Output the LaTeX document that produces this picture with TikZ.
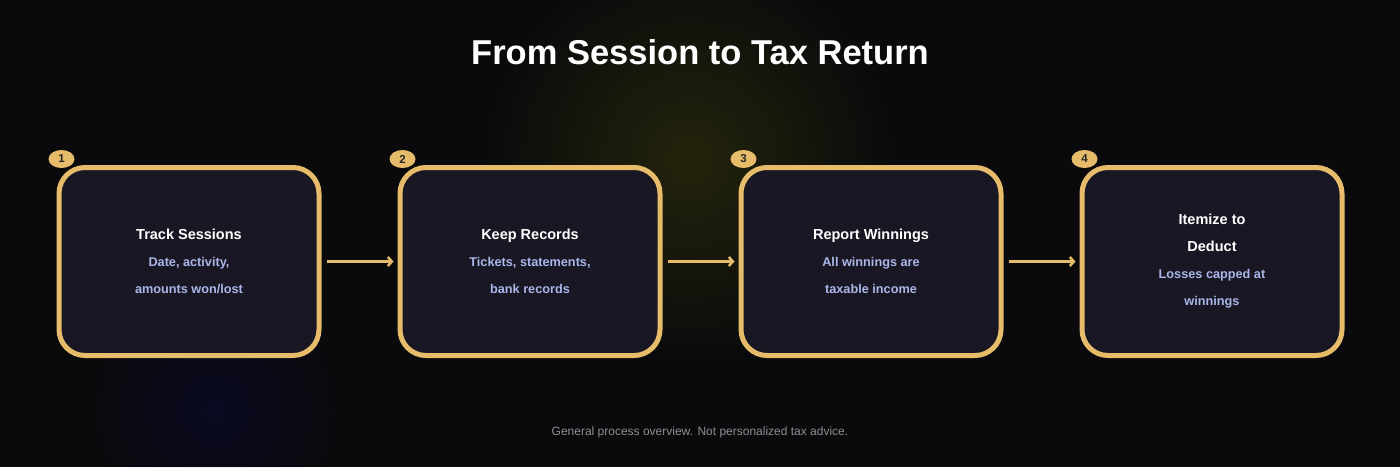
\documentclass[tikz,border=0pt]{standalone}
\usepackage{fontspec}
\setmainfont{Liberation Sans}
\usetikzlibrary{positioning,shapes.geometric,arrows.meta}
\definecolor{bgdark}{RGB}{10,10,12}
\definecolor{boxfill}{RGB}{26,23,36}
\definecolor{gold}{RGB}{230,188,106}
\definecolor{glowgold}{RGB}{215,160,90}
\definecolor{subblue}{RGB}{169,182,232}
\definecolor{footgray}{RGB}{142,142,147}
\definecolor{glowblue}{RGB}{50,80,180}
\begin{document}
\begin{tikzpicture}[x=1pt, y=-1pt,
	stepbox/.style={draw=gold, line width=5pt, fill=boxfill, rounded corners=26pt,
		minimum width=260pt, minimum height=188pt, align=center, text=subblue,
		font=\bfseries\fontsize{12.7}{27}\selectfont},
	badge/.style={ellipse, fill=gold, minimum width=26pt, minimum height=18pt, inner sep=0pt,
		text=black!85, font=\bfseries\fontsize{11.5}{11.5}\selectfont},
	flow/.style={draw=gold, line width=2.5pt, -{Straight Barb[length=4pt,width=9pt]},
		shorten <=5pt, shorten >=4pt},
	node distance=76pt]
	%background
	\fill[bgdark] (0,0) rectangle (1400,467);
	\useasboundingbox (0,0) rectangle (1400,467);
	\foreach \r in {8,16,...,200}{
		\fill[glowgold, opacity=0.007] (690,160) circle (\r);
	}
	\foreach \r in {6,12,...,130}{
		\fill[glowblue, opacity=0.006] (215,410) circle (\r);
	}
	
	%title
	\node[text=white, font=\bfseries\fontsize{34.5}{40}\selectfont] (title) at (700,52) {From Session to Tax Return};
	
	%steps
	\node[stepbox] (s1) at (189,261.5) {{\color{white}\fontsize{14.5}{26}\selectfont Track Sessions}\\ Date, activity,\\ amounts won/lost};
	\node[stepbox, right=of s1] (s2) {{\color{white}\fontsize{14.5}{26}\selectfont Keep Records}\\ Tickets, statements,\\ bank records};
	\node[stepbox, right=of s2] (s3) {{\color{white}\fontsize{14.5}{26}\selectfont Report Winnings}\\ All winnings are\\ taxable income};
	\node[stepbox, right=of s3] (s4) {{\color{white}\fontsize{14.5}{26}\selectfont Itemize to}\\ {\color{white}\fontsize{14.5}{26}\selectfont Deduct}\\ Losses capped at\\ winnings};
	
	\foreach \i in {1,2,3,4}{
		\node[badge] (b\i) at ([shift={(5,-6)}]s\i.north west) {\i};
	}
	
	\draw[flow] (s1) -- (s2);
	\draw[flow] (s2) -- (s3);
	\draw[flow] (s3) -- (s4);
	
	%footer
	\node[text=footgray, font=\fontsize{12}{14}\selectfont] (foot) at (700,432) {General process overview. Not personalized tax advice.};
\end{tikzpicture}
\end{document}
